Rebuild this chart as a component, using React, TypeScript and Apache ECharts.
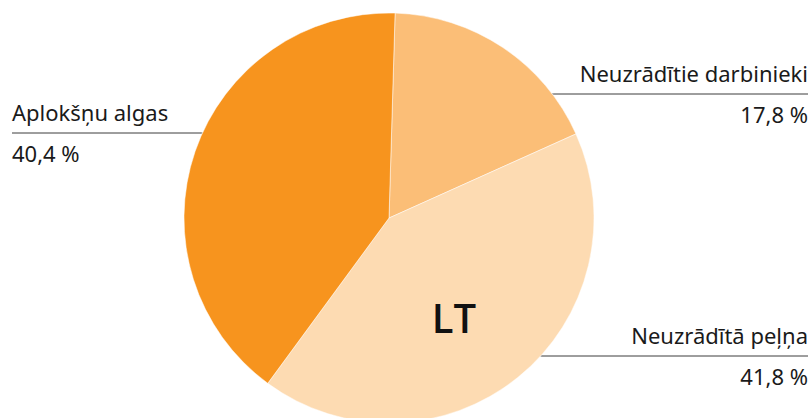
import React, { useEffect, useRef } from 'react';
import * as echarts from 'echarts';

const categories = ['Neuzrādītie darbinieki', 'Neuzrādītā peļņa', 'Aplokšņu algas'];
const values = [17.8, 41.8, 40.4];
const colors = ['#FBBE77', '#FDDBB2', '#F7941E'];
const centerLabel = 'LT';

const FONT = '"Noto Sans", "Open Sans", sans-serif';

export default function App() {
  const ref = useRef<HTMLDivElement>(null);
  useEffect(() => {
    const chart = echarts.init(ref.current as HTMLDivElement, null, { renderer: 'svg' });
    const cx = 389, cy = 218, R = 205;
    const lineYs = [94, 356, 133];
    const sides = ['right', 'right', 'left'];
    chart.setOption({
      animation: false,
      series: [
        {
          type: 'pie',
          center: [cx, cy],
          radius: R,
          startAngle: 88.3,
          clockwise: true,
          data: categories.map((c, i) => ({ name: c, value: values[i], itemStyle: { color: colors[i] } })),
          itemStyle: { borderColor: '#ffffff', borderWidth: 0.5 },
          emphasis: { disabled: true },
          label: {
            show: true,
            overflow: 'none',
            fontSize: 22,
            fontFamily: FONT,
            formatter: (p: any) => `{n|${p.name}}\n{v|${Number(p.value).toFixed(1).replace('.', ',')} %}`,
            rich: {
              n: { fontSize: 22, lineHeight: 41, fontFamily: FONT, color: '#1a1a1a' },
              v: { fontSize: 22, lineHeight: 41, fontFamily: FONT, color: '#1a1a1a' },
            },
          },
          labelLine: { show: true, smooth: false, lineStyle: { color: '#3c3c3c', width: 1 } },
          labelLayout: (params: any) => {
            const i = params.dataIndex;
            const y = lineYs[i];
            const dx = Math.sqrt(R * R - (y - cy) * (y - cy));
            if (sides[i] === 'right') {
              return {
                x: 808, y: y - 1, align: 'right', verticalAlign: 'middle',
                labelLinePoints: [[cx + dx, y], [cx + dx + 1, y], [808, y]],
              };
            }
            return {
              x: 12, y: y - 1, align: 'left', verticalAlign: 'middle',
              labelLinePoints: [[cx - dx, y], [cx - dx - 1, y], [12, y]],
            };
          },
        },
      ],
      graphic: [
        {
          type: 'text',
          x: 454,
          y: 317,
          z: 100,
          style: {
            text: centerLabel,
            fontSize: 40,
            fontWeight: 600,
            fontFamily: '"Open Sans", "Noto Sans", sans-serif',
            fill: '#111111',
            textAlign: 'center',
            textVerticalAlign: 'middle',
          },
        },
      ],
    });
    return () => chart.dispose();
  }, []);
  return <div ref={ref} style={{ position: 'absolute', left: 0, top: 0, width: 811, height: 418 }} />;
}
